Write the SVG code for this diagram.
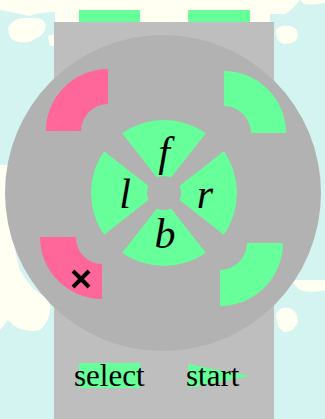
<svg xmlns="http://www.w3.org/2000/svg" width="325" height="419" viewBox="0 0 325 419">
<style>
.cloud{fill:#fffff2}
.green{fill:#66ff99}
.pink{fill:#ff6699}
.lbl{font-family:"Liberation Serif","DejaVu Serif",serif;font-size:31px;fill:#000}
.dir{font-family:"Liberation Serif","DejaVu Serif",serif;font-style:italic;font-size:42px;fill:#000;text-anchor:middle}
</style>
<g id="background">
<rect x="0" y="0" width="325" height="419" fill="#d4f4f2"/>
<path class="cloud" d="M0,0 H300 Q292,10 285,14 L270,14 V22 H55 V12 Q40,12 30,16 Q20,14 10,12 L0,10 Z"/>
<path class="cloud" d="M8,28 Q14,16 30,18 Q45,16 46,26 Q44,36 36,38 Q30,44 18,42 Q8,40 8,28 Z"/>
<path class="cloud" d="M48,36 L55,34 V46 L50,46 Z"/>
<path class="cloud" d="M276,30 Q280,24 290,26 Q298,28 298,36 Q296,44 286,44 Q276,44 276,30 Z"/>
<path class="cloud" d="M300,0 H325 V3 Q312,6 304,4 Z"/>
<path class="cloud" d="M0,165 L8,165 Q8,230 20,270 Q30,290 50,300 Q52,320 40,330 Q20,334 8,320 L0,330 Z"/>
<path class="cloud" d="M10,282 Q20,278 30,284 L20,294 Z"/>
<path class="cloud" d="M276,314 Q280,306 290,308 Q298,312 298,322 Q294,332 284,332 Q276,328 276,314 Z"/>
<path class="cloud" d="M290,280 L325,280 V290 Q310,294 300,290 Z"/>
</g>
<g id="body">
<rect x="79" y="10" width="61" height="12" class="green"/>
<rect x="188" y="10" width="62" height="12" class="green"/>
<rect x="54" y="22" width="220" height="397" fill="#bebebe"/>
<circle cx="163" cy="193" r="158" fill="#b2b2b2"/>
</g>
<g id="btn-top-left"><path class="pink" d="M46,131 A62,62 0 0 1 108,69 L108,104 A27,27 0 0 0 81,131 Z"/></g>
<g id="btn-top-right"><path class="green" d="M224,71 A62,62 0 0 1 286,133 L251,133 A27,27 0 0 0 224,106 Z"/></g>
<g id="btn-bottom-left"><path class="pink" d="M40,237 L76,237 A26,26 0 0 0 102,264 L102,299 A62,62 0 0 1 40,237 Z"/>
<path d="M73,271 L89,287 M89,271 L73,287" stroke="#000" stroke-width="4" fill="none"/></g>
<g id="btn-bottom-right"><path class="green" d="M247,243 L283,243 A63,63 0 0 1 220,306 L220,270 A27,27 0 0 0 247,243 Z"/></g>
<defs>
<path id="wedge" d="M122.13,133.2 A73,73 0 0 1 205.87,133.2 L171,177.5 A17,17 0 0 0 157,177.5 Z"/>
</defs>
<g id="dpad-f"><use href="#wedge" class="green"/><text class="dir" x="164" y="166">f</text></g>
<g id="dpad-r"><use href="#wedge" class="green" transform="rotate(90 164 193)"/><text class="dir" x="205" y="208">r</text></g>
<g id="dpad-b"><use href="#wedge" class="green" transform="rotate(180 164 193)"/><text class="dir" x="165" y="248">b</text></g>
<g id="dpad-l"><use href="#wedge" class="green" transform="rotate(270 164 193)"/><text class="dir" x="125" y="208">l</text></g>
<g id="select"><rect x="79" y="363" width="61" height="25" class="green"/><text class="lbl" x="74" y="386">select</text></g>
<g id="start"><path class="green" d="M188,364 L250,376 L188,388 Z"/><text class="lbl" x="186" y="386">start</text></g>
</svg>
